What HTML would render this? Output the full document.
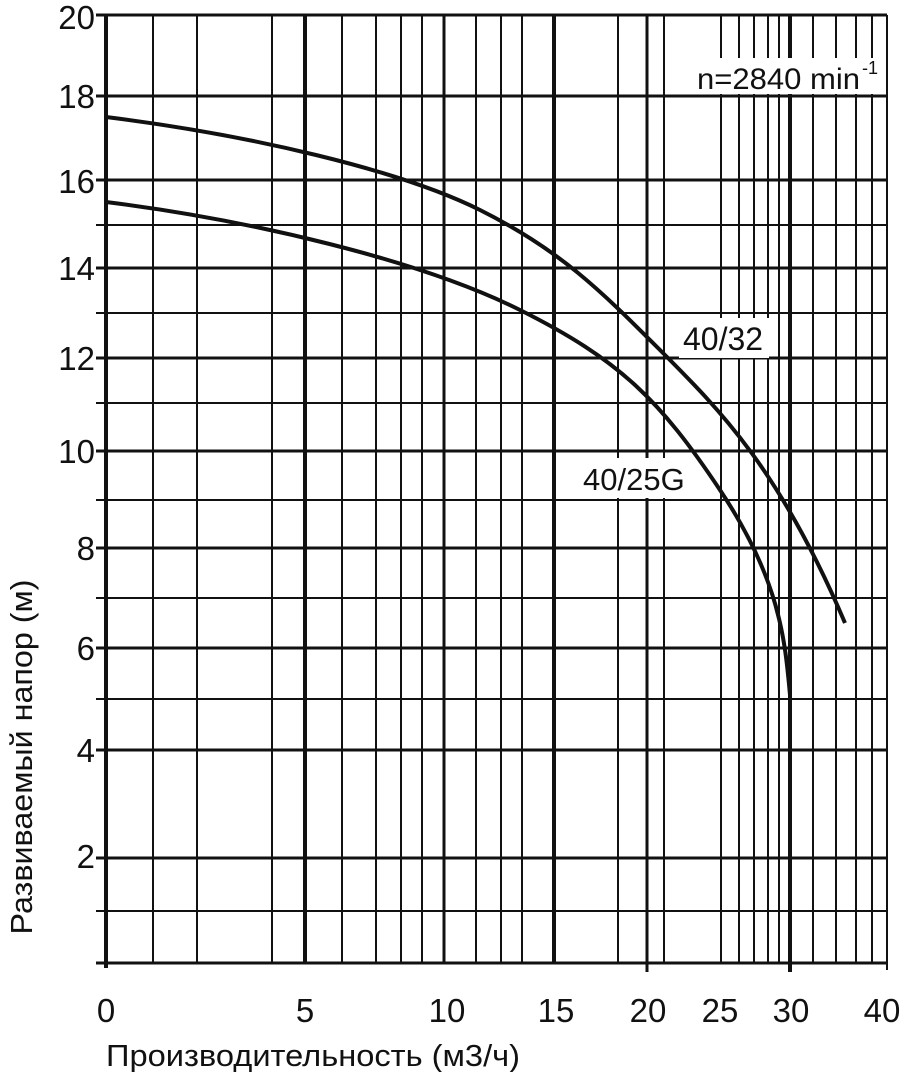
<!DOCTYPE html>
<html><head><meta charset="utf-8"><style>body{margin:0;background:#fff}svg{display:block}</style></head><body>
<svg width="912" height="1072" xmlns="http://www.w3.org/2000/svg" font-family="Liberation Sans, sans-serif" fill="#111">
<rect width="912" height="1072" fill="#fff"/>
<g stroke="#111" stroke-width="2">
<line x1="153" y1="15" x2="153" y2="963"/><line x1="197" y1="15" x2="197" y2="963"/><line x1="272" y1="15" x2="272" y2="963"/>
<line x1="342" y1="15" x2="342" y2="963"/><line x1="376" y1="15" x2="376" y2="963"/><line x1="401" y1="15" x2="401" y2="963"/>
<line x1="422" y1="15" x2="422" y2="963"/><line x1="476" y1="15" x2="476" y2="963"/><line x1="501" y1="15" x2="501" y2="963"/>
<line x1="522" y1="15" x2="522" y2="963"/><line x1="618" y1="15" x2="618" y2="963"/><line x1="664" y1="15" x2="664" y2="963"/>
<line x1="721" y1="15" x2="721" y2="963"/><line x1="739" y1="15" x2="739" y2="963"/><line x1="754" y1="15" x2="754" y2="963"/>
<line x1="768" y1="15" x2="768" y2="963"/><line x1="779" y1="15" x2="779" y2="963"/><line x1="813" y1="15" x2="813" y2="963"/>
<line x1="836" y1="15" x2="836" y2="963"/><line x1="856" y1="15" x2="856" y2="963"/><line x1="872" y1="15" x2="872" y2="963"/>
<line x1="887" y1="15" x2="887" y2="970"/>
<line x1="96" y1="225" x2="887" y2="225"/><line x1="96" y1="313" x2="887" y2="313"/><line x1="96" y1="403" x2="887" y2="403"/>
<line x1="96" y1="500" x2="887" y2="500"/><line x1="96" y1="598" x2="887" y2="598"/><line x1="96" y1="699" x2="887" y2="699"/>
<line x1="96" y1="911" x2="887" y2="911"/>
</g>
<g stroke="#111" stroke-width="3">
<line x1="444" y1="15" x2="444" y2="963"/><line x1="647" y1="15" x2="647" y2="972"/>
<line x1="96" y1="15" x2="887" y2="15"/><line x1="96" y1="96" x2="887" y2="96"/><line x1="96" y1="180" x2="887" y2="180"/>
<line x1="96" y1="268" x2="887" y2="268"/><line x1="96" y1="358" x2="887" y2="358"/><line x1="96" y1="451" x2="887" y2="451"/>
<line x1="96" y1="548" x2="887" y2="548"/><line x1="96" y1="648" x2="887" y2="648"/><line x1="96" y1="750" x2="887" y2="750"/>
<line x1="96" y1="858" x2="887" y2="858"/><line x1="96" y1="963" x2="887" y2="963"/>
</g>
<g stroke="#111" stroke-width="4">
<line x1="106" y1="15" x2="106" y2="968"/><line x1="305" y1="15" x2="305" y2="963"/><line x1="554" y1="15" x2="554" y2="963"/><line x1="790" y1="15" x2="790" y2="972"/>
</g>
<rect x="693" y="58" width="192" height="36" fill="#fff"/>
<text x="697" y="89" font-size="30" textLength="163" lengthAdjust="spacingAndGlyphs">n=2840 min</text>
<text x="862" y="74" font-size="18">-1</text>
<g fill="none" stroke="#111" stroke-width="4">
<path d="M106,117 C250,135 400,170 480,210 S600,290 660,350 S780,470 845,623"/>
<path d="M106,202 C250,220 420,260 520,310 S660,400 720,490 S785,640 790,695"/>
</g>
<rect x="679" y="318" width="90" height="40" fill="#fff"/>
<text x="683" y="350" font-size="32">40/32</text>
<rect x="579" y="458" width="112" height="40" fill="#fff"/>
<text x="583" y="490" font-size="31">40/25G</text>
<g font-size="33" text-anchor="end">
<text x="95" y="29">20</text><text x="95" y="108">18</text><text x="95" y="193">16</text><text x="95" y="280">14</text>
<text x="95" y="370">12</text><text x="95" y="463">10</text><text x="95" y="560">8</text><text x="95" y="660">6</text>
<text x="95" y="762">4</text><text x="95" y="868">2</text>
</g>
<g font-size="33" text-anchor="middle">
<text x="106" y="1022">0</text><text x="305" y="1022">5</text><text x="447" y="1022">10</text><text x="556" y="1022">15</text>
<text x="648" y="1022">20</text><text x="720" y="1022">25</text><text x="791" y="1022">30</text><text x="882" y="1022">40</text>
</g>
<text x="106" y="1066" font-size="31" textLength="414" lengthAdjust="spacingAndGlyphs">Производительность (м3/ч)</text>
<text transform="translate(32,757) rotate(-90)" font-size="31" text-anchor="middle" textLength="355" lengthAdjust="spacingAndGlyphs">Развиваемый напор (м)</text>
</svg>
</body></html>
